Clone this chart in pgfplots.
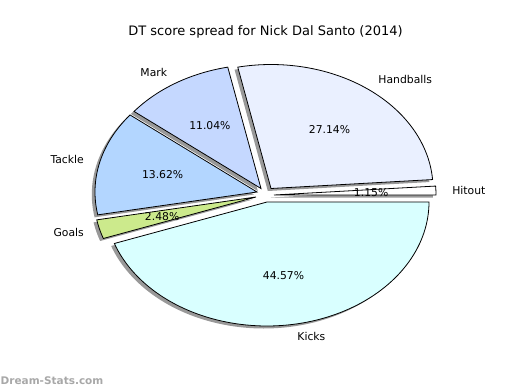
\documentclass[border=0pt]{standalone}
\usepackage{fontspec}
\setmainfont{DejaVu Sans}
\usepackage{pgfplots}
\pgfplotsset{compat=1.18}
\usepackage{pgfplotstable}

\definecolor{cHit}{HTML}{FFFFFF}
\definecolor{cHand}{HTML}{EAF0FF}
\definecolor{cMark}{HTML}{C5D8FF}
\definecolor{cTack}{HTML}{B3D6FF}
\definecolor{cGoal}{HTML}{CCEA8C}
\definecolor{cKick}{HTML}{D9FFFF}
\definecolor{wmark}{HTML}{A8A8A8}

% slices counter-clockwise from 0 degrees; ax, ay = apex of the (exploded) wedge
\pgfplotstableread{
name value ax ay col
Hitout 1.15 274 195 cHit
Handballs 27.14 271 201.5 cHand
Mark 11.04 261 201.5 cMark
Tackle 13.62 257 198 cTack
Goals 2.48 256 193 cGoal
Kicks 44.57 267 188 cKick
}\piedata

\def\RX{162}
\def\RY{124}

\begin{document}
\begin{tikzpicture}
\def\piecum{0}
\pgfplotsforeachungrouped \i in {0,...,5}{%
  \pgfplotstablegetelem{\i}{value}\of\piedata \let\pieV\pgfplotsretval
  \pgfplotstablegetelem{\i}{ax}\of\piedata \let\pieX\pgfplotsretval
  \pgfplotstablegetelem{\i}{ay}\of\piedata \let\pieY\pgfplotsretval
  \pgfplotstablegetelem{\i}{name}\of\piedata \let\pieN\pgfplotsretval
  \pgfplotstablegetelem{\i}{col}\of\piedata \let\pieC\pgfplotsretval
  \pgfmathsetmacro\pieS{3.6*\piecum}%
  \pgfmathsetmacro\piecum{\piecum+\pieV}%
  \pgfmathsetmacro\pieE{3.6*\piecum}%
  \pgfmathsetmacro\pieM{(\pieS+\pieE)/2}%
  \pgfmathsetmacro\pieLX{\pieX+1.1*\RX*cos(\pieM)}%
  \pgfmathsetmacro\pieLY{\pieY+1.1*\RY*sin(\pieM)}%
  \pgfmathsetmacro\piePX{\pieX+0.6*\RX*cos(\pieM)}%
  \pgfmathsetmacro\piePY{\pieY+0.6*\RY*sin(\pieM)}%
  \pgfmathsetmacro\pieXs{\pieX-3.2}%
  \pgfmathsetmacro\pieYs{\pieY-2.5}%
  \pgfmathtruncatemacro\piePos{cos(\pieM)>0}%
  \expandafter\xdef\csname pS\i\endcsname{\pieS}%
  \expandafter\xdef\csname pE\i\endcsname{\pieE}%
  \expandafter\xdef\csname pX\i\endcsname{\pieX}%
  \expandafter\xdef\csname pY\i\endcsname{\pieY}%
  \expandafter\xdef\csname pXs\i\endcsname{\pieXs}%
  \expandafter\xdef\csname pYs\i\endcsname{\pieYs}%
  \expandafter\xdef\csname pLX\i\endcsname{\pieLX}%
  \expandafter\xdef\csname pLY\i\endcsname{\pieLY}%
  \expandafter\xdef\csname pPX\i\endcsname{\piePX}%
  \expandafter\xdef\csname pPY\i\endcsname{\piePY}%
  \expandafter\xdef\csname pN\i\endcsname{\pieN}%
  \expandafter\xdef\csname pV\i\endcsname{\pieV}%
  \expandafter\xdef\csname pC\i\endcsname{\pieC}%
  \ifnum\piePos=1
    \expandafter\xdef\csname pA\i\endcsname{west}%
  \else
    \expandafter\xdef\csname pA\i\endcsname{east}%
  \fi
}
\begin{axis}[
  width=520bp, height=390bp, scale only axis,
  xmin=0, xmax=520, ymin=0, ymax=390,
  hide axis, clip=false,
]
\path (rel axis cs:0,0) rectangle (rel axis cs:1,1);
% shadows
\pgfplotsinvokeforeach{0,...,5}{
  \addplot[draw=none, fill=black, fill opacity=0.4, domain=0:1, samples=90]
    ({\csname pXs#1\endcsname+\RX*cos(\csname pS#1\endcsname+(\csname pE#1\endcsname-\csname pS#1\endcsname)*x)},
     {\csname pYs#1\endcsname+\RY*sin(\csname pS#1\endcsname+(\csname pE#1\endcsname-\csname pS#1\endcsname)*x)})
    -- (\csname pXs#1\endcsname,\csname pYs#1\endcsname) -- cycle;
}
% wedges
\pgfplotsinvokeforeach{0,...,5}{
  \addplot[draw=black, line width=0.8bp, line join=miter, fill=\csname pC#1\endcsname, domain=0:1, samples=90]
    ({\csname pX#1\endcsname+\RX*cos(\csname pS#1\endcsname+(\csname pE#1\endcsname-\csname pS#1\endcsname)*x)},
     {\csname pY#1\endcsname+\RY*sin(\csname pS#1\endcsname+(\csname pE#1\endcsname-\csname pS#1\endcsname)*x)})
    -- (\csname pX#1\endcsname,\csname pY#1\endcsname) -- cycle;
}
% labels
\pgfplotsinvokeforeach{0,...,5}{
  \node[anchor=\csname pA#1\endcsname, inner sep=0pt, font=\fontsize{10.8bp}{13bp}\selectfont]
    at (\csname pLX#1\endcsname,\csname pLY#1\endcsname) {\csname pN#1\endcsname};
  \node[anchor=center, inner sep=0pt, font=\fontsize{10.8bp}{13bp}\selectfont]
    at (\csname pPX#1\endcsname,\csname pPY#1\endcsname) {\csname pV#1\endcsname\%};
}
\node[anchor=base, inner sep=0pt, font=\fontsize{13bp}{15bp}\selectfont]
  at (265.5,355) {DT score spread for Nick Dal Santo (2014)};
\node[anchor=base west, inner sep=0pt, text=wmark, font=\fontsize{10.5bp}{12bp}\selectfont\bfseries]
  at (0.5,5.5) {Dream-Stats.com};
\end{axis}
\end{tikzpicture}
\end{document}
